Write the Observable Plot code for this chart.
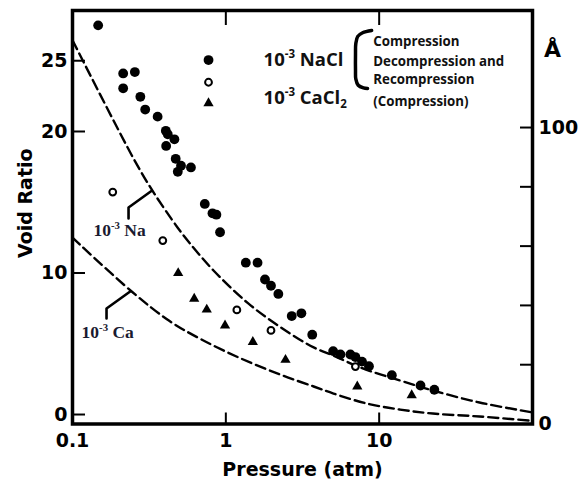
<!DOCTYPE html>
<html><head><meta charset="utf-8">
<script src="https://cdn.jsdelivr.net/npm/d3@7"></script>
<script src="https://cdn.jsdelivr.net/npm/@observablehq/plot@0.6"></script>
<style>
html,body{margin:0;padding:0;background:#fff;}
#chart svg{display:block;}
</style></head><body><div id="chart"></div>
<script>
// ---- data (pressure in atm, void ratio) ----
const naclPressure = [0.147,0.214,0.255,0.214,0.277,0.298,0.359,0.406,0.418,0.462,0.408,0.471,0.486,0.510,0.592,0.729,0.818,0.868,0.917,1.35,1.61,1.80,1.97,2.20,2.69,3.11,3.66,5.01,5.59,6.49,7.0,7.73,8.58,12.1,18.6,22.9];
const naclVoid     = [27.5,24.1,24.2,23.05,22.45,21.55,21.05,20.05,19.8,19.45,18.98,18.07,17.15,17.58,17.46,14.88,14.22,14.12,12.88,10.73,10.73,9.54,9.1,8.52,6.96,7.15,5.64,4.48,4.24,4.24,4.06,3.74,3.41,2.78,2.05,1.75];
const decompPressure = [0.183,0.388,1.18,1.97,7.0];
const decompVoid     = [15.72,12.29,7.39,5.94,3.39];
const caclPressure = [0.489,0.622,0.751,0.988,1.50,2.45,7.2,16.3];
const caclVoid     = [9.99,8.18,7.41,6.29,5.13,3.86,1.98,1.36];
// dashed reference curves
const naCurveP = [0.1,0.250,0.333,0.484,0.588,0.831,1.40,2.29,3.74,5.04,7.53,13.7,22.4,45.1,100];
const naCurveE = [26.45,18.09,15.8,13.22,12.05,10.18,7.85,6.15,4.74,4.16,3.32,2.4,1.7,0.85,0.15];
const caCurveP = [0.1,0.241,0.425,0.694,1.26,2.29,3.74,5.04,8.36,13.7,22.4,45.1,100];
const caCurveE = [12.5,8.73,6.64,5.3,3.95,2.8,1.98,1.48,0.77,0.35,0.07,-0.14,-0.45];
// ticks
const xTicks = [0.1, 1, 10];
const xTopTicks = [1, 10];
const yTicks = [0, 10, 20, 25];
const angstromTicks = [0, 20, 40, 60, 80, 100];
const angstromLabels = [0, 100];
// texts
const legendNames = ["10^{-3} NaCl", "10^{-3} CaCl_{2}"];
const bracketLines = ["Compression", "Decompression and", "Recompression", "(Compression)"];
const curveLabels = ["10^{-3} Na", "10^{-3} Ca"];

// ---- helpers ----
const E0 = -0.67, ePerA = 0.2095;          // right axis: Å -> void ratio
const aToE = a => E0 + a * ePerA;
const eToA = e => Math.round((e - E0) / ePerA);

const pts = (P, E) => P.map((p, i) => ({p, e: E[i]}));
const filled = pts(naclPressure, naclVoid);
const open = pts(decompPressure, decompVoid);
const tri = pts(caclPressure, caclVoid);
const naCurve = pts(naCurveP, naCurveE);
const caCurve = pts(caCurveP, caCurveE);

// annotation anchors (data units)
const legendSym = [{p:0.771, e:25.05, k:"f"}, {p:0.771, e:23.48, k:"o"}, {p:0.771, e:22.0, k:"t"}];
const legendTxt = [{p:1.762, e:25.05, t:legendNames[0]}, {p:1.762, e:22.35, t:legendNames[1]}];
const bracketTxt = bracketLines.map((t, i) => ({p: 9.15, e: [26.36, 24.95, 23.64, 22.12][i], t}));
const bracket = [[8.93,27.14],[7.8,26.98],[7.25,26.72],[7.04,26.2],[7.01,25.5],[7.01,24.3],[7.04,23.72],[7.3,23.27],[7.9,23.08],[8.4,23.04]].map(([p,e])=>({p,e}));
const naLeader = [{p:0.232,e:13.85},{p:0.232,e:14.63},{p:0.327,e:15.8}];
const caLeader = [{p:0.1667,e:6.78},{p:0.1667,e:7.49},{p:0.239,e:8.71}];
const curveTxt = [{p:0.137, e:13.0, t:curveLabels[0]}, {p:0.1146, e:5.8, t:curveLabels[1]}];

const ink = "#111";
const plot = Plot.plot({
  width: 579, height: 484,
  marginLeft: 72, marginRight: 47, marginTop: 10, marginBottom: 60.5,
  style: {fontFamily: "DejaVu Sans", background: "#fff", color: "#000", overflow: "visible"},
  x: {type: "log", domain: [0.1, 100]},
  y: {domain: [-0.67, 28.55]},
  marks: [
    Plot.line(naCurve, {x: "p", y: "e", curve: "catmull-rom", stroke: "#000", strokeWidth: 2.4, strokeDasharray: "10,5"}),
    Plot.line(caCurve, {x: "p", y: "e", curve: "catmull-rom", stroke: "#000", strokeWidth: 2.4, strokeDasharray: "10,5"}),
    Plot.dot(filled, {x: "p", y: "e", r: 4.9, fill: "#000", stroke: "none"}),
    Plot.dot(open, {x: "p", y: "e", r: 3.4, fill: "#fff", stroke: "#000", strokeWidth: 2}),
    Plot.dot(tri, {x: "p", y: "e", r: 3.8, symbol: "triangle", fill: "#000", stroke: "none"}),
    // legend
    Plot.dot(legendSym.filter(d => d.k === "f"), {x: "p", y: "e", r: 4.9, fill: "#000", stroke: "none"}),
    Plot.dot(legendSym.filter(d => d.k === "o"), {x: "p", y: "e", r: 3.4, fill: "#fff", stroke: "#000", strokeWidth: 2}),
    Plot.dot(legendSym.filter(d => d.k === "t"), {x: "p", y: "e", r: 3.8, symbol: "triangle", fill: "#000", stroke: "none"}),
    Plot.text(legendTxt, {x: "p", y: "e", text: "t", textAnchor: "start", lineAnchor: "middle", fontFamily: "Open Sans", fontWeight: 700, fontSize: 18.5, fill: ink}),
    Plot.line(bracket, {x: "p", y: "e", curve: "catmull-rom", stroke: "#000", strokeWidth: 3.5, strokeLinecap: "round"}),
    Plot.text(bracketTxt, {x: "p", y: "e", text: "t", textAnchor: "start", lineAnchor: "middle", fontFamily: "Open Sans", fontWeight: 700, fontSize: 13.3, fill: ink}),
    // curve labels
    Plot.line(naLeader, {x: "p", y: "e", stroke: "#000", strokeWidth: 2.6}),
    Plot.line(caLeader, {x: "p", y: "e", stroke: "#000", strokeWidth: 2.6}),
    Plot.text(curveTxt, {x: "p", y: "e", text: "t", textAnchor: "start", lineAnchor: "middle", fontFamily: "Liberation Serif", fontWeight: "bold", fontSize: 17.5, fill: "#1a1a30"}),
    // frame & axes
    Plot.frame({stroke: "#000", strokeWidth: 3.5}),
    Plot.axisX({anchor: "bottom", ticks: xTicks, tickFormat: d => String(d), tickSize: -11, tickPadding: 20, strokeWidth: 2, fontSize: 19, fontWeight: "bold", label: null}),
    Plot.axisX({anchor: "top", ticks: xTopTicks, tickFormat: () => "", tickSize: -14, tickPadding: 0, strokeWidth: 2, label: null}),
    Plot.axisY({anchor: "left", ticks: yTicks, tickSize: -13, tickPadding: 18, strokeWidth: 2, fontSize: 19, fontWeight: "bold", label: null}),
    Plot.axisY({anchor: "right", ticks: angstromTicks.map(aToE), tickFormat: d => angstromLabels.includes(eToA(d)) ? String(eToA(d)) : "", tickSize: -13, tickPadding: 19, strokeWidth: 2, fontSize: 19, fontWeight: "bold", label: null}),
    Plot.text(["Å"], {frameAnchor: "top-right", dx: 20, dy: 39, textAnchor: "middle", lineAnchor: "middle", fontSize: 22, fontWeight: "bold", fill: "#000"}),
    Plot.text(["Void Ratio"], {frameAnchor: "left", dx: -47, dy: -14, rotate: -90, textAnchor: "middle", lineAnchor: "middle", fontSize: 19, fontWeight: "bold", fill: "#000"}),
    Plot.text(["Pressure (atm)"], {frameAnchor: "bottom", dy: 46, textAnchor: "middle", lineAnchor: "middle", fontSize: 19, fontWeight: "bold", fill: "#000"})
  ]
});
document.getElementById("chart").appendChild(plot);

// superscripts / subscripts written as ^{..} and _{..}
function richText(root) {
  const ns = "http://www.w3.org/2000/svg";
  root.querySelectorAll("text").forEach(el => {
    const s = el.textContent;
    if (!/[\^_]\{/.test(s)) return;
    const fs = parseFloat(getComputedStyle(el).fontSize) || 16;
    const parts = s.split(/(\^\{[^}]*\}|_\{[^}]*\})/).filter(p => p !== "");
    while (el.firstChild) el.removeChild(el.firstChild);
    let shift = 0;
    for (const p of parts) {
      const t = document.createElementNS(ns, "tspan");
      let target = 0, txt = p, small = false;
      if (p.startsWith("^{")) { target = -0.42 * fs; txt = p.slice(2, -1); small = true; }
      else if (p.startsWith("_{")) { target = 0.22 * fs; txt = p.slice(2, -1); small = true; }
      if (small) t.setAttribute("font-size", (0.62 * fs).toFixed(1));
      if (target !== shift) { t.setAttribute("dy", (target - shift).toFixed(2)); shift = target; }
      t.textContent = txt;
      el.appendChild(t);
    }
  });
}
richText(plot);
</script></body></html>
